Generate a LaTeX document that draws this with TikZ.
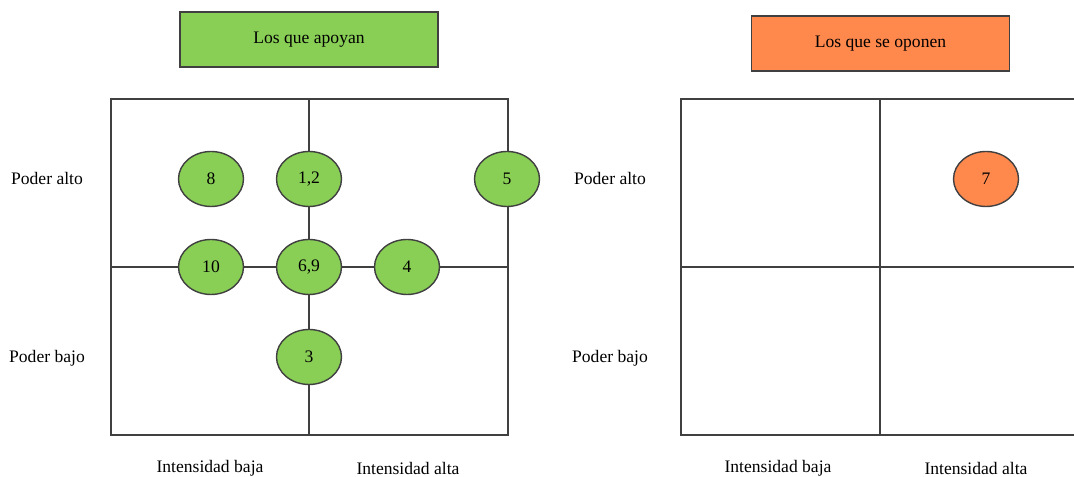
\documentclass[tikz,border=0pt]{standalone}
\usepackage{fontspec}
\setmainfont{Liberation Serif}
\usetikzlibrary{shapes.geometric}
\definecolor{apoyo}{RGB}{137,207,86}
\definecolor{oposicion}{RGB}{255,136,77}
\definecolor{linea}{RGB}{64,64,64}
\begin{document}
\begin{tikzpicture}[line width=0.8pt,
		grupo/.style={draw=linea,minimum width=5.16cm,minimum height=1.1cm,font=\normalsize},
		actor/.style={ellipse,draw=linea,minimum width=1.3cm,minimum height=1.1cm,inner sep=0pt,font=\normalsize},
		etiqueta/.style={font=\normalsize}]
		\useasboundingbox (0,0) rectangle (21.48,9.54);
		% matriz de los que apoyan
		\draw[linea] (2.22,0.84) rectangle (10.16,7.56);
		\draw[linea] (6.18,0.84) -- (6.18,7.56);
		\draw[linea] (2.22,4.2) -- (10.16,4.2);
		% matriz de los que se oponen
		\draw[linea] (21.6,7.56) -- (13.62,7.56) -- (13.62,0.84) -- (21.6,0.84);
		\draw[linea] (17.6,0.84) -- (17.6,7.56);
		\draw[linea] (13.62,4.2) -- (21.6,4.2);
		% encabezados
		\node[grupo,fill=apoyo] (apoyan) at (6.18,8.75) {Los que apoyan};
		\node[grupo,fill=oposicion] (oponen) at (17.61,8.67) {Los que se oponen};
		% actores
		\node[actor,fill=apoyo] (a8) at (4.22,5.96) {8};
		\node[actor,fill=apoyo] (a12) at (6.18,5.96) {1,2};
		\node[actor,fill=apoyo] (a5) at (10.14,5.96) {5};
		\node[actor,fill=apoyo] (a10) at (4.22,4.2) {10};
		\node[actor,fill=apoyo] (a69) at (6.18,4.2) {6,9};
		\node[actor,fill=apoyo] (a4) at (8.14,4.2) {4};
		\node[actor,fill=apoyo] (a3) at (6.18,2.4) {3};
		\node[actor,fill=oposicion] (a7) at (19.72,5.96) {7};
		% ejes
		\node[etiqueta] (altoA) at (0.94,5.96) {Poder alto};
		\node[etiqueta] (bajoA) at (0.94,2.38) {Poder bajo};
		\node[etiqueta] (altoB) at (12.2,5.96) {Poder alto};
		\node[etiqueta] (bajoB) at (12.2,2.38) {Poder bajo};
		\node[etiqueta] (ibA) at (4.2,0.18) {Intensidad baja};
		\node[etiqueta] (iaA) at (8.16,0.18) {Intensidad alta};
		\node[etiqueta] (ibB) at (15.56,0.18) {Intensidad baja};
		\node[etiqueta] (iaB) at (19.52,0.18) {Intensidad alta};
	\end{tikzpicture}
\end{document}
